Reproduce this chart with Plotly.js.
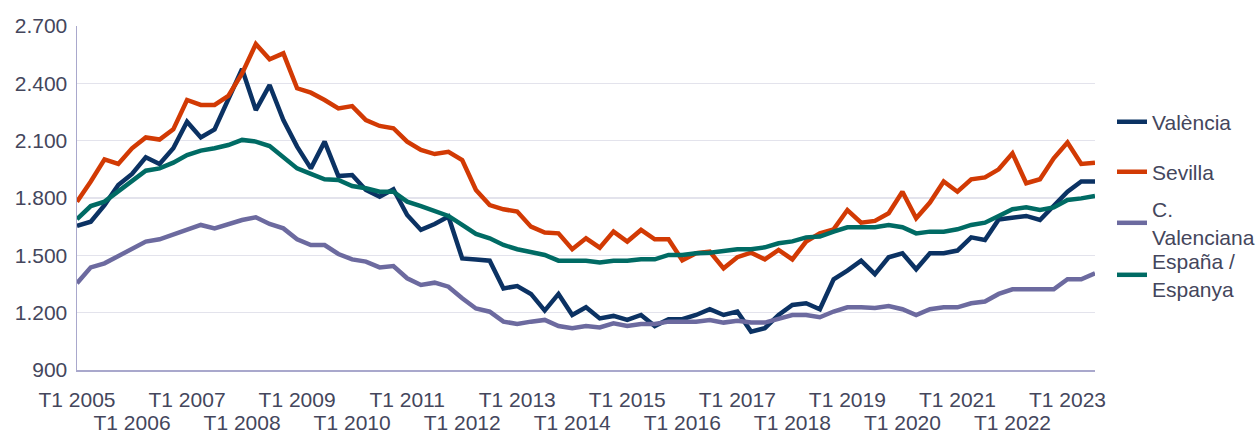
<!DOCTYPE html>
<html>
<head>
<meta charset="utf-8">
<script src="https://cdn.plot.ly/plotly-3.0.1.min.js"></script>
<style>html,body{margin:0;padding:0;background:#fff;}#chart{width:1260px;height:434px;}</style>
</head>
<body>
<div id="chart"></div>
<script>
// Quarter labels T1 2005 .. T3 2023
const years = [2005,2006,2007,2008,2009,2010,2011,2012,2013,2014,2015,2016,2017,2018,2019,2020,2021,2022,2023];
const quarters = ["T1","T2","T3","T4"];
const categories = [];
years.forEach(y => quarters.forEach(q => { if (!(y === 2023 && q === "T4")) categories.push(q + " " + y); }));

const valencia = [1654,1676,1763,1868,1926,2013,1978,2060,2199,2117,2159,2313,2475,2260,2391,
  2208,2069,1955,2095,1915,1920,1842,1807,1846,1711,1633,1664,1703,1484,1478,
  1472,1327,1339,1298,1211,1298,1188,1228,1170,1183,1162,1188,1130,1166,1166,
  1188,1218,1188,1206,1101,1119,1188,1240,1249,1218,1375,1420,1472,1402,1490,
  1511,1427,1511,1511,1525,1594,1580,1688,1699,1706,1685,1763,1833,1886,1886];
const sevilla = [1781,1886,2002,1978,2060,2117,2106,2159,2313,2287,2287,2334,2452,2606,2526,
  2557,2374,2351,2313,2269,2281,2208,2177,2165,2095,2051,2030,2042,1999,1842,
  1763,1741,1729,1650,1619,1615,1532,1589,1540,1624,1572,1633,1584,1584,1474,
  1511,1519,1432,1490,1514,1479,1528,1479,1572,1615,1636,1737,1671,1680,1720,
  1833,1694,1776,1886,1833,1898,1908,1950,2034,1877,1898,2008,2090,1978,1985];
const cValenciana = [1354,1437,1458,1497,1537,1572,1584,1607,1636,1659,1641,1664,1685,1699,1664,
  1641,1584,1554,1554,1507,1479,1467,1437,1444,1380,1345,1357,1336,1275,1222,
  1205,1153,1141,1153,1162,1130,1118,1130,1123,1144,1130,1141,1141,1153,1153,
  1153,1162,1148,1158,1148,1148,1166,1188,1188,1176,1206,1228,1228,1225,1235,
  1218,1188,1218,1228,1228,1249,1258,1298,1322,1322,1322,1322,1375,1375,1406];
const espana = [1689,1758,1781,1833,1891,1943,1955,1985,2025,2048,2060,2077,2104,2095,2072,
  2016,1955,1926,1898,1894,1863,1851,1833,1833,1781,1758,1729,1706,1659,1612,
  1589,1554,1532,1519,1502,1472,1472,1472,1462,1472,1472,1479,1479,1502,1502,
  1511,1514,1523,1532,1532,1542,1563,1573,1594,1598,1624,1647,1647,1647,1659,
  1647,1615,1624,1624,1636,1659,1671,1706,1741,1751,1737,1751,1790,1798,1811];

const seriesNames = ["València","Sevilla","C.<br>Valenciana","España /<br>Espanya"];
const seriesColors = ["#0b3263","#d23a04","#6c6a9f","#006b64"];
const seriesData = [valencia, sevilla, cValenciana, espana];
const legendY = [122, 172, 223, 275];

const xIdx = categories.map((c, i) => i);
const t1Idx = xIdx.filter(i => categories[i].startsWith("T1"));
const rowA = t1Idx.filter((v, k) => k % 2 === 0);
const rowB = t1Idx.filter((v, k) => k % 2 === 1);

const FONT = "Liberation Sans, Arial, sans-serif";
const TXT = "#44465c";
const FS = 21;

const legendIds = ["legend","legend2","legend3","legend4"];
const traces = seriesData.map((d, k) => ({
  type: "scatter", mode: "lines", x: xIdx, y: d, name: seriesNames[k],
  line: {color: seriesColors[k], width: 4.5}, legend: legendIds[k], hoverinfo: "skip"
}));
// invisible carrier so the second tick-label row axis is drawn
traces.push({
  type: "scatter", mode: "lines", x: rowB, y: rowB.map(() => null), xaxis: "x2", yaxis: "y",
  showlegend: false, hoverinfo: "skip", line: {width: 0}
});

const layout = {
  width: 1260, height: 434,
  margin: {l: 77, r: 165, t: 26, b: 64},
  paper_bgcolor: "#ffffff", plot_bgcolor: "#ffffff",
  separators: ",.",
  font: {family: FONT, size: FS, color: TXT},
  showlegend: true,
  xaxis: {
    range: [0, xIdx.length - 1], tickmode: "array", tickvals: rowA,
    ticktext: rowA.map(i => categories[i]), showgrid: false, zeroline: false,
    showline: true, linecolor: "#a9a8cc", linewidth: 1.5, ticks: "",
    tickfont: {family: FONT, size: FS, color: TXT}, ticklabelstandoff: 10
  },
  xaxis2: {
    overlaying: "x", anchor: "y", side: "bottom",
    range: [0, xIdx.length - 1], tickmode: "array", tickvals: rowB,
    ticktext: rowB.map(i => categories[i]), showgrid: false, zeroline: false,
    showline: false, ticks: "",
    tickfont: {family: FONT, size: FS, color: TXT}, ticklabelstandoff: 38
  },
  yaxis: {
    range: [900, 2700], tickmode: "array", tickvals: [900,1200,1500,1800,2100,2400,2700],
    tickformat: ",d", showgrid: true, gridcolor: "#e3e3ec", gridwidth: 1.5,
    zeroline: false, showline: true, linecolor: "#a9a8cc", linewidth: 1.5, ticks: "",
    tickfont: {family: FONT, size: FS, color: TXT}, ticklabelstandoff: 4
  }
};
legendIds.forEach((id, k) => {
  layout[id] = {
    xref: "container", yref: "container", x: 1112 / 1260, y: 1 - legendY[k] / 434,
    xanchor: "left", yanchor: "middle", bgcolor: "rgba(0,0,0,0)", borderwidth: 0,
    font: {family: FONT, size: FS, color: TXT}, itemclick: false, itemdoubleclick: false
  };
});

Plotly.newPlot("chart", traces, layout, {staticPlot: true, displayModeBar: false});
</script>
</body>
</html>
